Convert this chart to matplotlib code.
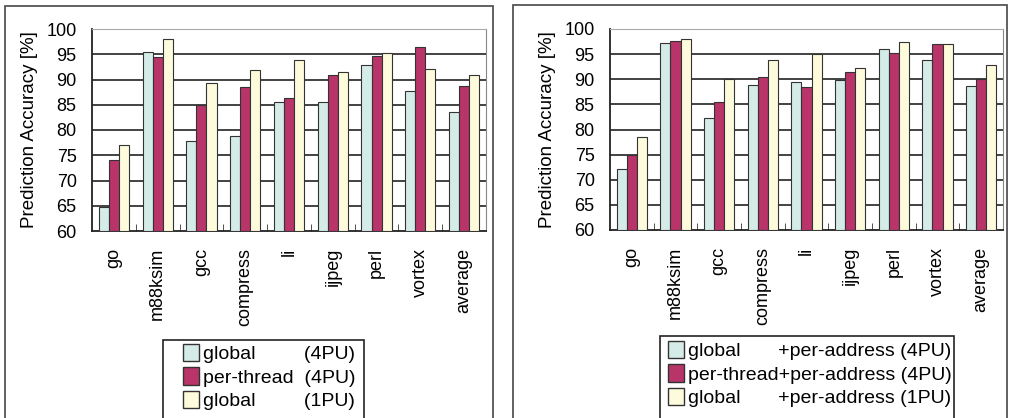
import numpy as np
import matplotlib
matplotlib.use('Agg')
import matplotlib.pyplot as plt
from matplotlib.patches import Rectangle, Patch

plt.rcParams['font.family'] = ['Liberation Sans', 'DejaVu Sans']

# Benchmarks on the x axis
benchmarks = ['go', 'm88ksim', 'gcc', 'compress', 'li', 'ijpeg', 'perl', 'vortex', 'average']

# Left chart: prediction accuracy [%]
left_global_4pu = [64.8, 95.5, 77.8, 78.8, 85.5, 85.5, 92.9, 87.8, 83.5]
left_thread_4pu = [74.1, 94.4, 85.0, 88.5, 86.4, 90.9, 94.7, 96.5, 88.8]
left_global_1pu = [77.1, 98.0, 89.4, 91.8, 93.8, 91.4, 95.2, 92.1, 90.9]
left_labels = ['global         (4PU)', 'per-thread  (4PU)', 'global         (1PU)']

# Right chart: prediction accuracy [%] with per-address predictor
right_global_4pu = [72.1, 97.2, 82.2, 88.8, 89.5, 89.9, 96.0, 93.9, 88.6]
right_thread_4pu = [75.0, 97.6, 85.5, 90.5, 88.4, 91.4, 95.2, 97.1, 90.1]
right_global_1pu = [78.6, 98.1, 90.1, 93.9, 95.1, 92.3, 97.4, 97.0, 92.8]
right_labels = ['global       +per-address (4PU)',
                'per-thread+per-address (4PU)',
                'global       +per-address (1PU)']

colors = ['#d5ebe8', '#b83469', '#fdfbdb']

W, H = 1011, 418
fig = plt.figure(figsize=(W / 100, H / 100), dpi=100)


def frame(x0, x1, y0, lw, ec):
    # box drawn in pixel coords, running off the bottom edge
    fig.patches.append(Rectangle((x0 / W, -0.05), (x1 - x0) / W, 1 - y0 / H + 0.05,
                                 transform=fig.transFigure, fill=False,
                                 edgecolor=ec, linewidth=lw, zorder=5))


# outer frames around each panel
frame(5, 493, 6, 1.3, '#555555')
frame(513, 1007, 5, 1.3, '#555555')


def draw_panel(ax, series, labels, leg_x, leg_y):
    x = np.arange(len(benchmarks))
    w = 0.23
    for i, (vals, c) in enumerate(zip(series, colors)):
        ax.bar(x + (i - 1) * w, np.array(vals) - 60, w, bottom=60, color=c,
               edgecolor='#333333', linewidth=0.8, zorder=3)
    ax.set_xlim(-0.5, len(benchmarks) - 0.5)
    ax.set_ylim(60, 100)
    ax.set_yticks(range(60, 101, 5))
    for yv in range(65, 100, 5):
        ax.axhline(yv, color='#222222', linewidth=1.2, zorder=1)
    ax.set_xticks(x)
    ax.set_xticklabels(benchmarks, rotation=90, fontsize=13)
    ax.tick_params(axis='x', length=0, pad=12)
    ax.set_xticks(np.arange(0.5, len(benchmarks) - 1, 1), minor=True)
    ax.tick_params(axis='x', which='minor', direction='in', length=5, color='#333333')
    ax.tick_params(axis='y', length=0, labelsize=13, pad=11)
    ax.set_ylabel('Prediction Accuracy [%]', fontsize=13.5, labelpad=6)
    ax.spines['left'].set_color('#222222')
    ax.spines['bottom'].set_color('#222222')
    ax.spines['left'].set_linewidth(1.3)
    ax.spines['bottom'].set_linewidth(1.3)
    ax.spines['top'].set_color('#aaaaaa')
    ax.spines['right'].set_color('#888888')
    handles = [Patch(facecolor=c, edgecolor='#333333') for c in colors]
    fig.legend(handles, labels, loc='upper left',
               bbox_to_anchor=(leg_x / W, 1 - leg_y / H),
               frameon=False, fontsize=14,
               handlelength=0.8, handleheight=1.0, handletextpad=0.25,
               labelspacing=0.2, borderpad=0, borderaxespad=0)


ax1 = fig.add_axes([92 / W, 1 - 231 / H, (486 - 92) / W, (231 - 29) / H])
draw_panel(ax1, [left_global_4pu, left_thread_4pu, left_global_1pu], left_labels, 183, 344)
frame(163, 364, 340, 1.2, '#222222')

ax2 = fig.add_axes([610 / W, 1 - 230 / H, (1003 - 610) / W, (230 - 29) / H])
draw_panel(ax2, [right_global_4pu, right_thread_4pu, right_global_1pu], right_labels, 668, 341)
frame(660, 954, 336, 1.2, '#222222')

plt.savefig('out.png', dpi=100)
plt.close()
